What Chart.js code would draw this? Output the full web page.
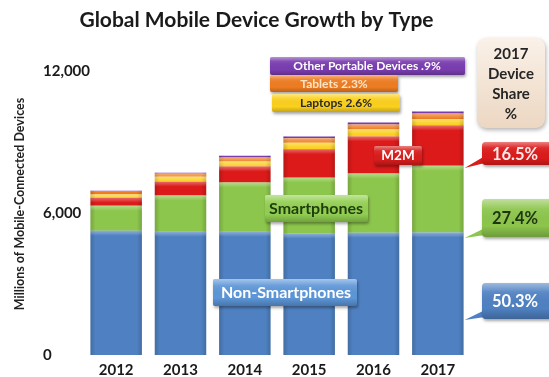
<!DOCTYPE html>
<html>
<head>
<meta charset="utf-8">
<script src="https://cdn.jsdelivr.net/npm/chart.js@4"></script>
<style>
  html, body { margin: 0; padding: 0; background: #fff; }
</style>
</head>
<body>
<canvas id="deviceChart" width="549" height="377"></canvas>
<script>
// Millions of devices per year, stacked from the bottom up
const years = ['2012', '2013', '2014', '2015', '2016', '2017'];
const nonSmartphones = [5250, 5210, 5210, 5130, 5170, 5180];
const smartphones = [1060, 1530, 2080, 2370, 2500, 2820];
const m2m = [340, 590, 680, 1200, 1570, 1700];
const laptops = [140, 210, 210, 270, 300, 270];
const tablets = [120, 130, 170, 200, 210, 240];
const otherPortable = [40, 40, 80, 70, 80, 90];
const yTicks = [0, 6000, 12000];

const seriesNames = ['Non-Smartphones', 'Smartphones', 'M2M', 'Laptops', 'Tablets', 'Other Portable Devices'];
const seriesColors = ['#4f81c2', '#8dc64c', '#dc1a1a', '#fbd01e', '#ee7d22', '#7a3db0'];
const share2017 = ['50.3%', '27.4%', '16.5%', '2.6%', '2.3%', '.9%'];

const FONT = 'Lato, "Open Sans", sans-serif';

function boxPath(c, x, y, w, h, r) {
    c.beginPath();
    c.roundRect(x, y, w, h, r);
}

// filled box with a soft shadow and a bevel-like vertical shading
function bevelBox(c, x, y, w, h, color, r) {
    c.save();
    c.shadowColor = 'rgba(0,0,0,0.35)';
    c.shadowBlur = 3;
    c.shadowOffsetX = 1;
    c.shadowOffsetY = 2;
    boxPath(c, x, y, w, h, r);
    c.fillStyle = color;
    c.fill();
    c.restore();
    c.save();
    boxPath(c, x, y, w, h, r);
    c.clip();
    const g = c.createLinearGradient(0, y, 0, y + h);
    g.addColorStop(0, 'rgba(255,255,255,0.45)');
    g.addColorStop(0.25, 'rgba(255,255,255,0.08)');
    g.addColorStop(0.7, 'rgba(0,0,0,0)');
    g.addColorStop(1, 'rgba(0,0,0,0.22)');
    c.fillStyle = g;
    c.fillRect(x, y, w, h);
    c.restore();
}

function label(c, text, x, y, size, color) {
    c.font = 'bold ' + size + 'px ' + FONT;
    c.fillStyle = color;
    c.textAlign = 'center';
    c.textBaseline = 'middle';
    c.fillText(text, x, y);
}

// darker sides and a light top edge on every bar segment
const barShade = {
    id: 'barShade',
    afterDatasetsDraw(chart) {
        const c = chart.ctx;
        chart.data.datasets.forEach((ds, i) => {
            chart.getDatasetMeta(i).data.forEach(bar => {
                const p = bar.getProps(['x', 'y', 'base', 'width'], true);
                const left = p.x - p.width / 2;
                const top = Math.min(p.y, p.base);
                const h = Math.abs(p.base - p.y);
                const g = c.createLinearGradient(left, 0, left + p.width, 0);
                g.addColorStop(0, 'rgba(0,0,0,0.16)');
                g.addColorStop(0.1, 'rgba(0,0,0,0)');
                g.addColorStop(0.9, 'rgba(0,0,0,0)');
                g.addColorStop(1, 'rgba(0,0,0,0.16)');
                c.fillStyle = g;
                c.fillRect(left, top, p.width, h);
                if (h > 3) {
                    const g2 = c.createLinearGradient(0, top, 0, top + 5);
                    g2.addColorStop(0, 'rgba(255,255,255,0.35)');
                    g2.addColorStop(1, 'rgba(255,255,255,0)');
                    c.fillStyle = g2;
                    c.fillRect(left, top, p.width, Math.min(5, h));
                }
            });
        });
    }
};

// axis title, series tags, share header and the 2017 callouts
const annotations = {
    id: 'annotations',
    afterDraw(chart) {
        const c = chart.ctx;
        c.save();

        // vertical axis title
        c.save();
        c.translate(20, 204);
        c.rotate(-Math.PI / 2);
        label(c, 'Millions of Mobile-Connected Devices', 0, 0, 12.5, '#222');
        c.restore();

        // small series tags at the top
        bevelBox(c, 270, 57, 195, 18, seriesColors[5], 2);
        label(c, seriesNames[5] + ' ' + share2017[5], 367, 66, 12, '#fff');
        bevelBox(c, 270, 75, 128, 17, seriesColors[4], 2);
        label(c, seriesNames[4] + ' ' + share2017[4], 334, 84, 12, '#ffe4c6');
        bevelBox(c, 272, 94, 128, 18, seriesColors[3], 2);
        label(c, seriesNames[3] + ' ' + share2017[3], 336, 103, 12, '#2a2a2a');

        // header box
        c.save();
        c.shadowColor = 'rgba(0,0,0,0.3)';
        c.shadowBlur = 4;
        c.shadowOffsetX = 1;
        c.shadowOffsetY = 2;
        boxPath(c, 477, 38, 68, 90, 9);
        const hg = c.createLinearGradient(0, 38, 0, 128);
        hg.addColorStop(0, '#faf1e8');
        hg.addColorStop(1, '#ecd7c2');
        c.fillStyle = hg;
        c.fill();
        c.restore();
        ['2017', 'Device', 'Share', '%'].forEach((t, i) => label(c, t, 511, 54 + i * 20, 15, '#262626'));

        // callouts pointing at the 2017 bar
        const meta = chart.getDatasetMeta(0).data[5];
        const barRight = meta.x + meta.width / 2;
        const callouts = [
            { ds: 2, y: 142, h: 23, text: share2017[2], color: '#fde9e9', tipY: 168 },
            { ds: 1, y: 199, h: 38, text: share2017[1], color: '#1e3510', tipY: 238 },
            { ds: 0, y: 283, h: 36, text: share2017[0], color: '#fff', tipY: 320 }
        ];
        callouts.forEach(o => {
            const bx = 482;
            c.beginPath();
            c.moveTo(bx + 3, o.y + o.h - 9);
            c.lineTo(barRight + 1, o.tipY);
            c.lineTo(bx + 3, o.y + o.h - 2);
            c.closePath();
            c.fillStyle = seriesColors[o.ds];
            c.fill();
            bevelBox(c, bx, o.y, 72, o.h, seriesColors[o.ds], 4);
            label(c, o.text, 515, o.y + o.h / 2 + 1, 16.5, o.color);
        });

        // series tags inside the plot
        bevelBox(c, 374, 146, 48, 19, '#d91c1c', 2);
        label(c, seriesNames[2], 398, 156, 13.5, '#fff');
        bevelBox(c, 265, 195, 103, 27, '#92cf52', 2);
        label(c, seriesNames[1], 316, 209, 16, '#1f3d0c');
        bevelBox(c, 213, 279, 144, 27, '#5d96d8', 2);
        label(c, seriesNames[0], 286, 293, 16, '#fff');

        c.restore();
    }
};

const seriesData = [nonSmartphones, smartphones, m2m, laptops, tablets, otherPortable];

new Chart(document.getElementById('deviceChart').getContext('2d'), {
    type: 'bar',
    data: {
        labels: years,
        datasets: seriesData.map((values, i) => ({
            label: seriesNames[i],
            data: values,
            backgroundColor: seriesColors[i],
            borderWidth: 0,
            barPercentage: 1,
            categoryPercentage: 0.8
        }))
    },
    options: {
        responsive: false,
        animation: false,
        devicePixelRatio: 1,
        layout: { padding: { left: 43, right: 79, top: 0, bottom: 0 } },
        plugins: {
            legend: { display: false },
            tooltip: { enabled: false },
            title: {
                display: true,
                text: 'Global Mobile Device Growth by Type',
                color: '#1a1a1a',
                font: { family: FONT, size: 21, weight: 'bold' },
                padding: { top: 8, bottom: 38 }
            }
        },
        scales: {
            x: {
                stacked: true,
                grid: { display: false, drawTicks: false },
                border: { display: false },
                ticks: { color: '#1a1a1a', padding: 6, font: { family: FONT, size: 15, weight: 'bold' } },
                afterFit(s) { s.height = 22; }
            },
            y: {
                stacked: true,
                min: 0,
                max: 12000,
                afterBuildTicks(s) { s.ticks = yTicks.map(v => ({ value: v })); },
                grid: { display: false, drawTicks: false },
                border: { display: false },
                ticks: {
                    mirror: true,
                    padding: -41,
                    color: '#1a1a1a',
                    font: { family: FONT, size: 15, weight: 'bold' },
                    callback: v => v.toLocaleString('en-US')
                },
                afterFit(s) { s.width = 41; }
            }
        }
    },
    plugins: [barShade, annotations]
});
</script>
</body>
</html>
